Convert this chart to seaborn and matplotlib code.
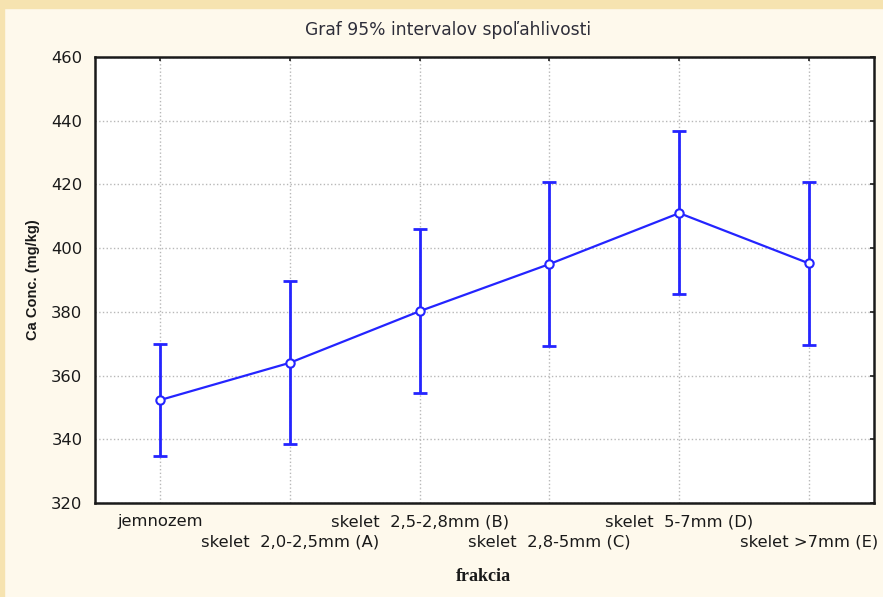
import numpy as np
import matplotlib
matplotlib.use("Agg")
import matplotlib.pyplot as plt
from matplotlib.patches import Rectangle
import seaborn as sns

# Fractions and their mean Ca concentration with 95% confidence limits (mg/kg)
categories = ["jemnozem", "skelet  2,0-2,5mm (A)", "skelet  2,5-2,8mm (B)",
              "skelet  2,8-5mm (C)", "skelet  5-7mm (D)", "skelet >7mm (E)"]
means = [352.3, 364.0, 380.2, 395.0, 411.0, 395.2]
lower = [334.7, 338.6, 354.5, 369.2, 385.6, 369.6]
upper = [370.0, 389.7, 405.9, 420.8, 436.7, 420.9]
yticks = [320, 340, 360, 380, 400, 420, 440, 460]

sns.set_style("white")
plt.rcParams["font.family"] = ["DejaVu Sans"]

blue = "#2424ff"
bg = "#fef9ec"
ink = "#1a1a1a"

fig = plt.figure(figsize=(8.83, 5.97), dpi=100, facecolor=bg)
# thin warm band along the top and left edges of the canvas
fig.patches.append(Rectangle((0, 1 - 8 / 597), 1, 8 / 597, transform=fig.transFigure,
                             color="#f6e3b0", zorder=0))
fig.patches.append(Rectangle((0, 0), 4 / 883, 1, transform=fig.transFigure,
                             color="#f6e3b0", zorder=0))

ax = fig.add_axes([95 / 883, 1 - 503 / 597, 779 / 883, 446 / 597])
ax.set_facecolor("white")

sns.pointplot(x=categories, y=means, errorbar=None, color=blue, ax=ax,
              markers="o", linestyles="-", linewidth=1.6,
              markerfacecolor="white", markeredgecolor=blue,
              markeredgewidth=1.5, markersize=6, zorder=4)

pos = np.arange(len(categories))
m = np.array(means)
yerr = [m - np.array(lower), np.array(upper) - m]
ax.errorbar(pos, m, yerr=yerr, fmt="none", ecolor=blue, elinewidth=2,
            capsize=4.7, capthick=2, zorder=3)

ax.set_xlim(-0.5, len(categories) - 0.5)
ax.set_ylim(320, 460)
ax.set_yticks(yticks)

# staggered category labels: even ones on the first row, odd ones on the second
ax.set_xticks(pos[::2])
ax.set_xticklabels(categories[::2])
ax.set_xticks(pos[1::2], minor=True)
ax.set_xticklabels(categories[1::2], minor=True)

grid_kw = dict(linestyle=":", color="#b8b8b8", linewidth=1)
ax.xaxis.grid(True, which="both", **grid_kw)
ax.yaxis.grid(True, which="major", **grid_kw)
ax.set_axisbelow(True)

for side, sp in ax.spines.items():
    sp.set_visible(True)
    sp.set_color(ink)
    sp.set_linewidth(1.8)

ax.tick_params(axis="both", which="both", direction="in", length=3, width=1.2,
               color=ink, top=True, right=True, labelsize=11.8, labelcolor=ink)
ax.tick_params(axis="x", which="major", pad=8)
ax.tick_params(axis="x", which="minor", pad=23)
ax.tick_params(axis="y", pad=9)

ax.set_ylabel("Ca Conc. (mg/kg)", fontsize=10.5, fontweight="bold", color=ink,
              family=["Liberation Sans", "DejaVu Sans"])
ax.yaxis.set_label_coords(-0.071, 0.5)
ax.set_xlabel("frakcia", fontsize=13, fontweight="bold", color=ink,
              family=["Liberation Serif", "DejaVu Serif"])
ax.xaxis.set_label_coords(0.498, -0.145)

fig.text(448 / 883, 1 - 30 / 597, "Graf 95% intervalov spoľahlivosti",
         ha="center", va="center", fontsize=12.3, color="#2e2e3a")

fig.savefig("out.png", dpi=100, facecolor=bg)
